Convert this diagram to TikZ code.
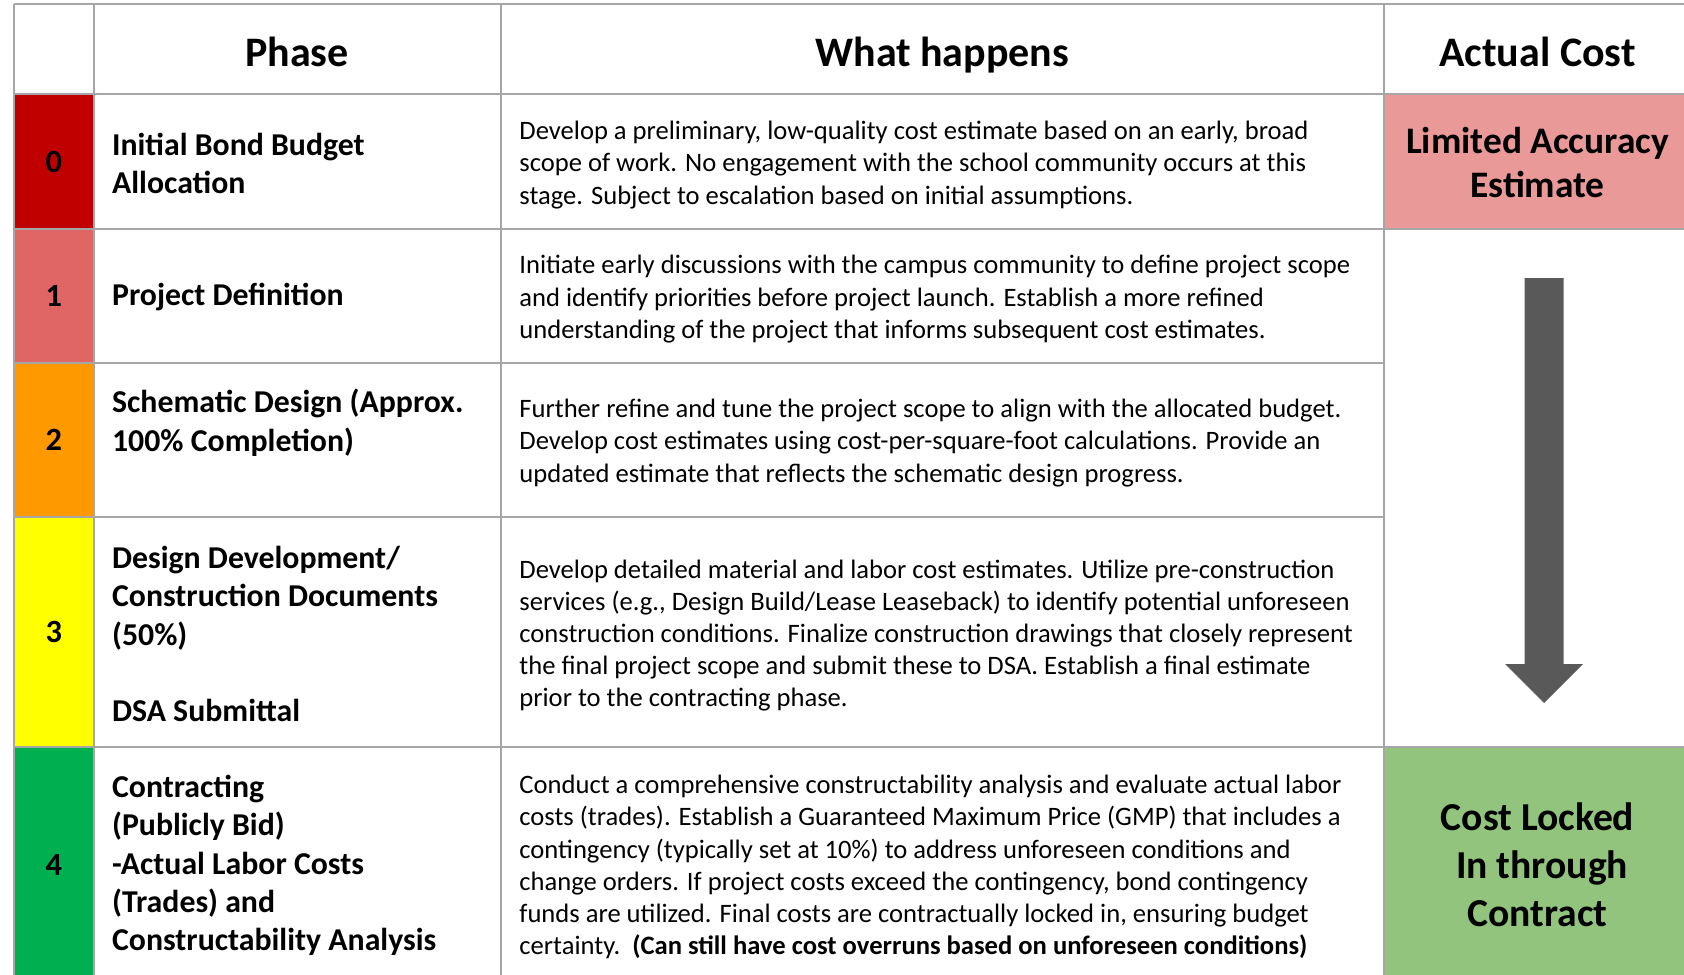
\documentclass[tikz,border=0pt]{standalone}
\usepackage{fontspec}
\setmainfont{Carlito}
\definecolor{phasezero}{HTML}{C00000}
\definecolor{phaseone}{HTML}{E06666}
\definecolor{phasetwo}{HTML}{FF9900}
\definecolor{phasethree}{HTML}{FFFF00}
\definecolor{phasefour}{HTML}{00B050}
\definecolor{costpink}{HTML}{EA9999}
\definecolor{costgreen}{HTML}{93C47D}
\definecolor{arrowgray}{HTML}{595959}
\definecolor{linegray}{HTML}{A6A6A6}
% column edges (px)
\newcommand*{\xa}{14}
\newcommand*{\xb}{93.5}
\newcommand*{\xc}{500.5}
\newcommand*{\xd}{1384}
\newcommand*{\xe}{1691}
\newcommand*{\ytop}{4.5}
\newcommand*{\ybot}{983}
\tikzset{
	tabline/.style={
		draw=linegray,
		line width=1pt
	},
	headtext/.style={
		anchor=base,
		inner sep=0pt,
		font=\bfseries\fontsize{21}{25}\selectfont
	},
	numtext/.style={
		inner sep=0pt,
		font=\bfseries\fontsize{16.2}{19.2}\selectfont
	},
	phasetext/.style={
		anchor=west,
		align=left,
		inner sep=0pt,
		font=\bfseries\fontsize{15.9}{19.2}\selectfont
	},
	desctext/.style={
		anchor=west,
		align=left,
		inner sep=0pt,
		font=\fontsize{13.3}{16.1}\selectfont
	},
	costtext/.style n args={2}{
		align=center,
		inner sep=0pt,
		font=\bfseries\fontsize{#1}{#2}\selectfont
	}
}
\begin{document}
\begin{tikzpicture}[x=0.5pt,y=-0.5pt]
	\useasboundingbox (0,0) rectangle (1684,974);
	% coloured cells
	\foreach \n/\ya/\yb/\col in {0/94.5/229/phasezero,1/229/363/phaseone,2/363/516.5/phasetwo,3/516.5/746.5/phasethree,4/746.5/983/phasefour} {
		\fill[\col] (\xa,\ya) rectangle (\xb,\yb);
		\node (num\n) [numtext] at ({(\xa+\xb)/2},{(\ya+\yb)/2}) {\n};
	};
	\fill[costpink] (\xd,94.5) rectangle (\xe,229);
	\fill[costgreen] (\xd,746.5) rectangle (\xe,983);
	% grid
	\foreach \x in {\xa,\xb,\xc,\xd}
		\draw[tabline] (\x,\ytop) -- (\x,\ybot);
	\foreach \y in {\ytop,94.5,229,746.5,\ybot}
		\draw[tabline] (\xa,\y) -- (\xe,\y);
	\foreach \y in {363,516.5}
		\draw[tabline] (\xa,\y) -- (\xd,\y);
	% arrow
	\fill[arrowgray] (1524.5,278) -- (1563.5,278) -- (1563.5,664) -- (1583,664)
		-- (1544,703) -- (1505,664) -- (1524.5,664) -- cycle;
	% header
	\node (hphase) [headtext] at (297,66.3) {Phase};
	\node (hwhat) [headtext] at (942.3,66.3) {What happens};
	\node (hcost) [headtext] at (1537.5,66.3) {Actual Cost};
	% phases
	\node (ph0) [phasetext] at (111.7,163.5) {Initial Bond Budget\\Allocation};
	\node (ph1) [phasetext] at (111.7,297.5) {Project Definition};
	\node (ph2) [phasetext] at (111.7,422.5) {Schematic Design (Approx.\\100\% Completion)};
	\node (ph3) [phasetext] at (111.7,634) {Design Development/\\Construction Documents\\(50\%)\\[19.2pt]DSA Submittal};
	\node (ph4) [phasetext] at (111.7,865.5) {Contracting\\(Publicly Bid)\\-Actual Labor Costs\\(Trades) and\\Constructability Analysis};
	% what happens
	\node (wh0) [desctext] at (519,165) {Develop a preliminary, low-quality cost estimate based on an early, broad\\scope of work. No engagement with the school community occurs at this\\stage. Subject to escalation based on initial assumptions.};
	\node (wh1) [desctext] at (519,299.2) {Initiate early discussions with the campus community to define project scope\\and identify priorities before project launch. Establish a more refined\\understanding of the project that informs subsequent cost estimates.};
	\node (wh2) [desctext] at (519,443) {Further refine and tune the project scope to align with the allocated budget.\\Develop cost estimates using cost-per-square-foot calculations. Provide an\\updated estimate that reflects the schematic design progress.};
	\node (wh3) [desctext] at (519,635.5) {Develop detailed material and labor cost estimates. Utilize pre-construction\\services (e.g., Design Build/Lease Leaseback) to identify potential unforeseen\\construction conditions. Finalize construction drawings that closely represent\\the final project scope and submit these to DSA. Establish a final estimate\\prior to the contracting phase.};
	\node (wh4) [desctext] at (519,867) {Conduct a comprehensive constructability analysis and evaluate actual labor\\costs (trades). Establish a Guaranteed Maximum Price (GMP) that includes a\\contingency (typically set at 10\%) to address unforeseen conditions and\\change orders. If project costs exceed the contingency, bond contingency\\funds are utilized. Final costs are contractually locked in, ensuring budget\\certainty.\ \ \textbf{(Can still have cost overruns based on unforeseen conditions)}};
	% actual cost
	\node (cost0) [costtext={18.7}{22}] at (1537.5,162.7) {Limited Accuracy\\Estimate};
	\node (cost4) [costtext={19.8}{24}] at (1537.5,864.6) {Cost Locked\\\mbox{ }In through\\Contract};
\end{tikzpicture}
\end{document}
